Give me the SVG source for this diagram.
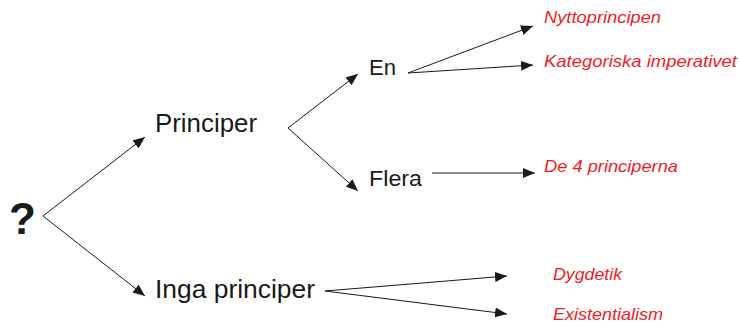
<svg xmlns="http://www.w3.org/2000/svg" width="739" height="327" viewBox="0 0 739 327">
  <style>
    .node { font-family: "Liberation Sans", Arial, sans-serif; fill: #1a1a1a; }
    .main { font-size: 25px; }
    .sub { font-size: 22px; }
    .leaf { font-family: "Liberation Sans", Arial, sans-serif; font-style: italic; font-size: 17px; fill: #ee1c25; }
    .edge { stroke: #1a1a1a; stroke-width: 1; fill: none; marker-end: url(#arrow); }
  </style>
  <defs>
    <marker id="arrow" viewBox="0 0 12 10" refX="12" refY="5" markerWidth="12" markerHeight="10" markerUnits="userSpaceOnUse" orient="auto">
      <path d="M0,0 L12,5 L0,10 Z" fill="#1a1a1a"/>
    </marker>
  </defs>
  <rect width="739" height="327" fill="#ffffff"/>

  <g id="connectors">
    <line class="edge" x1="43" y1="216" x2="145" y2="137"/>
    <line class="edge" x1="43" y1="216" x2="145" y2="296"/>
    <line class="edge" x1="288" y1="128" x2="358" y2="74"/>
    <line class="edge" x1="288" y1="128" x2="358" y2="191"/>
    <line class="edge" x1="408" y1="73" x2="533" y2="26"/>
    <line class="edge" x1="408" y1="73" x2="533" y2="65"/>
    <line class="edge" x1="432" y1="173" x2="535" y2="173"/>
    <line class="edge" x1="325" y1="291" x2="507" y2="276"/>
    <line class="edge" x1="325" y1="291" x2="507" y2="314"/>
  </g>

  <g id="root"><text class="node" x="9" y="234" font-size="44" font-weight="bold">?</text></g>
  <g id="principer"><text class="node main" x="155" y="132" textLength="102" lengthAdjust="spacingAndGlyphs">Principer</text></g>
  <g id="inga-principer"><text class="node main" x="155" y="298" textLength="160" lengthAdjust="spacingAndGlyphs">Inga principer</text></g>
  <g id="en"><text class="node sub" x="369" y="75" textLength="27" lengthAdjust="spacingAndGlyphs">En</text></g>
  <g id="flera"><text class="node sub" x="369" y="186" textLength="53" lengthAdjust="spacingAndGlyphs">Flera</text></g>

  <g id="nyttoprincipen"><text class="leaf" x="544" y="23" textLength="117" lengthAdjust="spacingAndGlyphs">Nyttoprincipen</text></g>
  <g id="kategoriska"><text class="leaf" x="544" y="67" textLength="193" lengthAdjust="spacingAndGlyphs">Kategoriska imperativet</text></g>
  <g id="de-4-principerna"><text class="leaf" x="544" y="172" textLength="134" lengthAdjust="spacingAndGlyphs">De 4 principerna</text></g>
  <g id="dygdetik"><text class="leaf" x="553" y="280" textLength="69" lengthAdjust="spacingAndGlyphs">Dygdetik</text></g>
  <g id="existentialism"><text class="leaf" x="553" y="320" textLength="110" lengthAdjust="spacingAndGlyphs">Existentialism</text></g>
</svg>
